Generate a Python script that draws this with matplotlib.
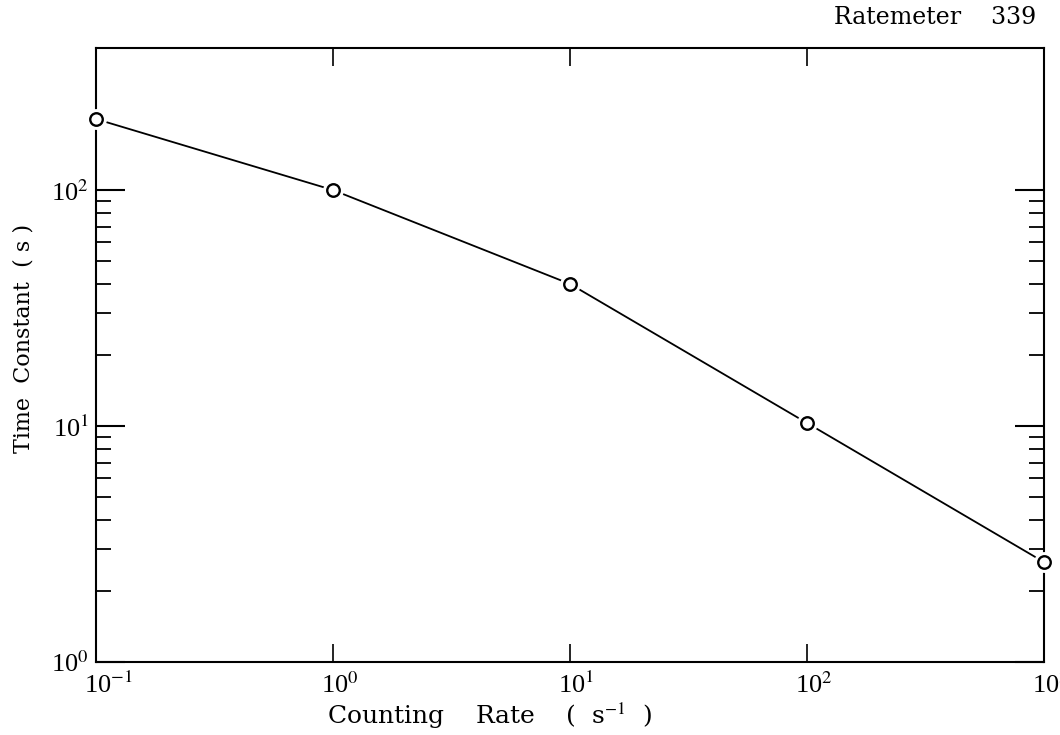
import numpy as np
import matplotlib
matplotlib.use("Agg")
from matplotlib import pyplot as plt
from matplotlib.transforms import ScaledTranslation

plt.rcParams['font.family'] = ['Liberation Serif', 'DejaVu Serif']
plt.rcParams['mathtext.fontset'] = 'stix'

# counting rate (s^-1) vs ratemeter time constant (s)
rate = [0.1, 1, 10, 100, 1000]
tau = [200, 100, 40, 10.3, 2.65]

x_ticks = [0.1, 1, 10, 100, 1000]
x_labels = ['10$^{-1}$', '10$^{0}$', '10$^{1}$', '10$^{2}$', '10$^{3}$']
y_ticks = [1, 10, 100]
y_labels = ['10$^{0}$', '10$^{1}$', '10$^{2}$']
y_minor = [2, 3, 4, 5, 6, 7, 8, 9, 20, 30, 40, 50, 60, 70, 80, 90]

fig = plt.figure(figsize=(10.6, 7.35), dpi=100)
ax = fig.add_axes([96 / 1060, 1 - 662 / 735, (1044 - 96) / 1060, (662 - 48) / 735])

ax.plot(rate, tau, color='black', lw=1.3, zorder=2)
ax.plot(rate, tau, ls='none', marker='o', ms=14, mfc='white', mec='white', zorder=3, clip_on=False)
ax.plot(rate, tau, ls='none', marker='o', ms=9, mfc='white', mec='black', mew=1.7, zorder=4, clip_on=False)

ax.set_xscale('log')
ax.set_yscale('log')
ax.set_xlim(0.1, 1000)
ax.set_ylim(1, 400)

ax.set_xticks(x_ticks)
ax.set_xticklabels(x_labels, fontsize=19)
ax.xaxis.set_minor_locator(matplotlib.ticker.NullLocator())
ax.set_yticks(y_ticks)
ax.set_yticklabels(y_labels, fontsize=19)
ax.yaxis.set_minor_locator(matplotlib.ticker.FixedLocator(y_minor))
ax.yaxis.set_minor_formatter(matplotlib.ticker.NullFormatter())

ax.tick_params(axis='x', which='major', direction='in', length=13, width=1.2,
               top=True, bottom=True, pad=7)
ax.tick_params(axis='y', which='major', direction='in', length=21, width=1.5,
               left=True, right=True, pad=5)
ax.tick_params(axis='y', which='minor', direction='in', length=11, width=1.3,
               left=True, right=True)

# shift x labels so the "10" sits over the tick
off = ScaledTranslation(-12 / 100, 0, fig.dpi_scale_trans)
for lab in ax.get_xticklabels():
    lab.set_horizontalalignment('left')
    lab.set_transform(lab.get_transform() + off)

for s in ax.spines.values():
    s.set_linewidth(1.5)

fig.text(490 / 1060, 1 - 716 / 735, 'Counting    Rate    (  s$^{-1}$  )', fontsize=18,
         family='DejaVu Serif', ha='center', va='center')
fig.text(24 / 1060, 1 - 338 / 735, 'Time  Constant  ( s )', fontsize=16,
         family='DejaVu Serif', ha='center', va='center', rotation=90)
fig.text(1036 / 1060, 1 - 17 / 735, 'Ratemeter    339', fontsize=17,
         family='DejaVu Serif', ha='right', va='center')

fig.savefig('out.png', dpi=100, facecolor='white')
